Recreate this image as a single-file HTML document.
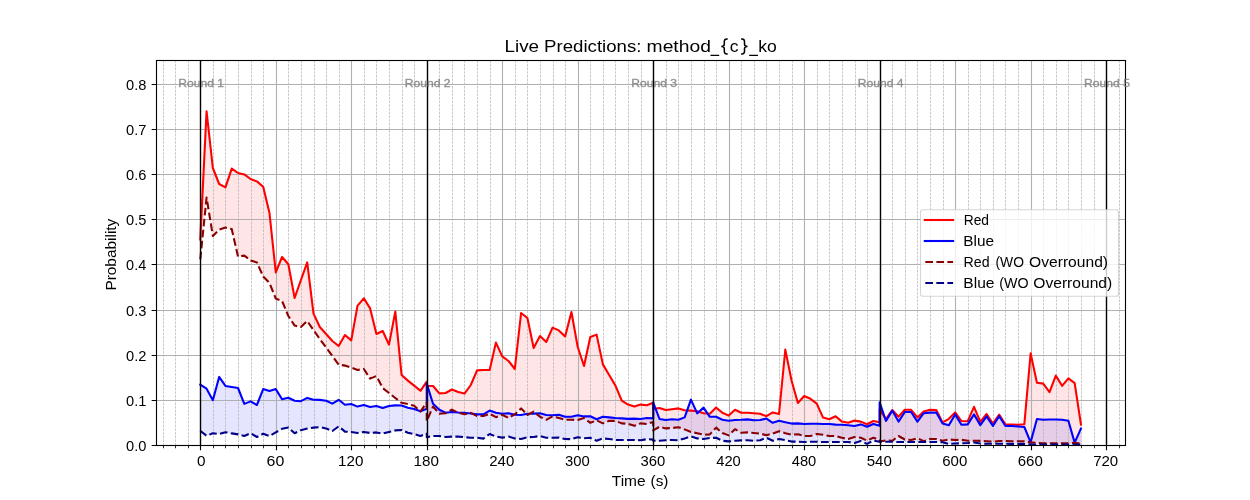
<!DOCTYPE html><html><head><meta charset="utf-8"><title>Live Predictions</title><style>html,body{margin:0;padding:0;background:#fff}svg{display:block;will-change:transform}text{font-family:"Liberation Sans",sans-serif}</style></head><body>
<svg width="1250" height="500" viewBox="0 0 1250 500">
<rect width="1250" height="500" fill="#fff"/>
<clipPath id="c"><rect x="156.5" y="60.5" width="969.0" height="385.0"/></clipPath>
<g clip-path="url(#c)">
<path d="M200.28,239.40 L206.57,111.40 L212.86,168.00 L219.15,184.00 L225.44,187.40 L231.73,168.60 L238.02,173.00 L244.31,174.40 L250.60,179.00 L256.90,181.40 L263.19,186.70 L269.48,213.00 L275.77,272.40 L282.06,257.00 L288.35,264.20 L294.64,298.00 L300.93,280.00 L307.22,262.40 L313.51,313.60 L319.80,327.00 L326.09,334.00 L332.38,341.00 L338.67,346.00 L344.96,335.00 L351.25,340.40 L357.54,305.60 L363.84,298.40 L370.13,308.40 L376.42,334.00 L382.71,331.00 L389.00,344.60 L395.29,311.60 L401.58,375.00 L407.87,380.60 L414.16,385.60 L420.45,390.80 L426.74,381.60 L426.74,385.80 L433.03,386.00 L439.32,393.40 L445.61,393.00 L451.90,389.50 L458.19,392.00 L464.49,393.60 L470.78,385.00 L477.07,370.40 L483.36,370.00 L489.65,370.00 L495.94,342.60 L502.23,356.40 L508.52,361.00 L514.81,369.00 L521.10,313.00 L527.39,318.00 L533.68,348.00 L539.97,336.00 L546.26,342.00 L552.55,327.60 L558.84,330.40 L565.13,336.40 L571.43,312.00 L577.72,347.00 L584.01,366.00 L590.30,337.00 L596.59,334.60 L602.88,364.40 L609.17,375.00 L615.46,385.60 L621.75,400.60 L628.04,404.60 L634.33,406.60 L640.62,404.60 L646.91,405.20 L653.20,402.80 L653.20,409.00 L659.49,408.00 L665.78,410.00 L672.07,409.20 L678.37,408.40 L684.66,410.20 L690.95,410.60 L697.24,411.20 L703.53,413.20 L709.82,413.80 L716.11,407.60 L722.40,412.80 L728.69,415.60 L734.98,409.80 L741.27,412.80 L747.56,412.70 L753.85,413.20 L760.14,413.80 L766.43,416.20 L772.72,412.40 L779.02,414.00 L785.31,349.60 L791.60,380.80 L797.89,403.00 L804.18,396.00 L810.47,398.80 L816.76,403.60 L823.05,417.60 L829.34,419.20 L835.63,416.20 L841.92,421.60 L848.21,422.80 L854.50,420.60 L860.79,421.60 L867.08,424.20 L873.37,421.00 L879.66,422.20 L879.66,409.60 L885.96,419.20 L892.25,410.00 L898.54,416.80 L904.83,409.80 L911.12,409.80 L917.41,417.40 L923.70,411.40 L929.99,409.80 L936.28,410.00 L942.57,422.40 L948.86,418.80 L955.15,412.40 L961.44,421.00 L967.73,421.20 L974.02,406.80 L980.31,421.80 L986.60,414.00 L992.90,423.60 L999.19,414.50 L1005.48,424.50 L1011.77,424.50 L1018.06,424.70 L1024.35,424.20 L1030.64,353.40 L1036.93,382.80 L1043.22,383.60 L1049.51,392.20 L1055.80,375.60 L1062.09,385.80 L1068.38,378.40 L1074.67,383.20 L1080.96,424.50 L1080.96,443.80 L1074.67,442.80 L1068.38,443.40 L1062.09,443.40 L1055.80,443.40 L1049.51,443.30 L1043.22,443.20 L1036.93,442.80 L1030.64,442.30 L1024.35,441.40 L1018.06,441.20 L1011.77,441.20 L1005.48,441.00 L999.19,441.00 L992.90,441.60 L986.60,441.20 L980.31,440.90 L974.02,440.80 L967.73,440.80 L961.44,439.80 L955.15,440.00 L948.86,439.50 L942.57,440.80 L936.28,439.00 L929.99,439.00 L923.70,441.20 L917.41,438.20 L911.12,440.00 L904.83,439.50 L898.54,436.00 L892.25,440.80 L885.96,440.50 L879.66,441.50 L879.66,440.00 L873.37,437.70 L867.08,440.60 L860.79,437.80 L854.50,437.10 L848.21,439.00 L841.92,437.80 L835.63,436.00 L829.34,436.00 L823.05,434.80 L816.76,434.00 L810.47,436.00 L804.18,436.00 L797.89,434.20 L791.60,434.80 L785.31,433.20 L779.02,431.20 L772.72,433.60 L766.43,435.20 L760.14,433.60 L753.85,433.00 L747.56,432.40 L741.27,432.80 L734.98,429.20 L728.69,435.40 L722.40,433.00 L716.11,427.60 L709.82,434.40 L703.53,434.80 L697.24,433.20 L690.95,432.00 L684.66,429.40 L678.37,427.20 L672.07,428.00 L665.78,428.40 L659.49,426.80 L653.20,430.40 L653.20,422.00 L646.91,424.00 L640.62,423.40 L634.33,425.80 L628.04,423.80 L621.75,423.40 L615.46,420.90 L609.17,420.80 L602.88,423.40 L596.59,420.40 L590.30,422.80 L584.01,418.00 L577.72,420.00 L571.43,419.80 L565.13,419.80 L558.84,418.00 L552.55,416.40 L546.26,419.80 L539.97,416.80 L533.68,411.60 L527.39,415.00 L521.10,408.40 L514.81,414.40 L508.52,418.00 L502.23,414.80 L495.94,417.20 L489.65,413.80 L483.36,416.00 L477.07,416.10 L470.78,412.80 L464.49,414.20 L458.19,412.70 L451.90,409.60 L445.61,413.30 L439.32,413.60 L433.03,406.70 L426.74,421.00 L426.74,402.50 L420.45,411.60 L414.16,405.80 L407.87,404.00 L401.58,402.80 L395.29,398.00 L389.00,393.00 L382.71,388.00 L376.42,376.00 L370.13,378.60 L363.84,369.00 L357.54,370.00 L351.25,367.60 L344.96,365.60 L338.67,364.60 L332.38,356.00 L326.09,347.50 L319.80,339.00 L313.51,330.00 L307.22,321.00 L300.93,327.00 L294.64,325.60 L288.35,316.00 L282.06,301.00 L275.77,298.60 L269.48,283.00 L263.19,276.50 L256.90,262.40 L250.60,260.40 L244.31,255.60 L238.02,256.60 L231.73,229.00 L225.44,227.60 L219.15,229.60 L212.86,236.00 L206.57,197.60 L200.28,259.40Z" fill="#ff0000" fill-opacity="0.1"/>
<path d="M200.28,384.60 L206.57,388.70 L212.86,400.20 L219.15,376.90 L225.44,385.90 L231.73,387.00 L238.02,388.00 L244.31,403.90 L250.60,401.40 L256.90,405.00 L263.19,389.10 L269.48,391.10 L275.77,389.10 L282.06,399.30 L288.35,397.70 L294.64,400.80 L300.93,401.20 L307.22,397.90 L313.51,399.70 L319.80,399.90 L326.09,400.80 L332.38,403.60 L338.67,399.80 L344.96,404.70 L351.25,404.00 L357.54,406.60 L363.84,405.00 L370.13,407.00 L376.42,406.00 L382.71,408.00 L389.00,406.00 L395.29,405.40 L401.58,405.50 L407.87,407.70 L414.16,409.00 L420.45,411.20 L426.74,408.70 L426.74,383.60 L433.03,403.70 L439.32,409.70 L445.61,412.80 L451.90,412.00 L458.19,412.50 L464.49,412.80 L470.78,413.50 L477.07,414.40 L483.36,414.30 L489.65,410.60 L495.94,412.80 L502.23,413.80 L508.52,413.20 L514.81,414.80 L521.10,415.00 L527.39,413.80 L533.68,413.60 L539.97,413.20 L546.26,415.00 L552.55,415.20 L558.84,414.80 L565.13,416.80 L571.43,416.80 L577.72,415.20 L584.01,416.40 L590.30,416.20 L596.59,419.20 L602.88,416.80 L609.17,417.40 L615.46,418.00 L621.75,418.40 L628.04,418.90 L634.33,418.60 L640.62,419.00 L646.91,418.00 L653.20,418.40 L653.20,402.40 L659.49,419.00 L665.78,420.00 L672.07,419.20 L678.37,419.80 L684.66,417.40 L690.95,399.60 L697.24,413.40 L703.53,407.60 L709.82,416.80 L716.11,416.80 L722.40,419.80 L728.69,420.80 L734.98,420.00 L741.27,419.80 L747.56,419.40 L753.85,420.20 L760.14,420.00 L766.43,418.60 L772.72,422.80 L779.02,420.80 L785.31,422.20 L791.60,423.60 L797.89,423.40 L804.18,424.00 L810.47,423.80 L816.76,423.80 L823.05,424.00 L829.34,424.00 L835.63,424.60 L841.92,424.80 L848.21,425.20 L854.50,426.00 L860.79,424.40 L867.08,426.80 L873.37,424.00 L879.66,425.80 L879.66,402.40 L885.96,421.00 L892.25,410.60 L898.54,421.60 L904.83,412.00 L911.12,412.00 L917.41,421.60 L923.70,413.20 L929.99,412.60 L936.28,412.60 L942.57,423.40 L948.86,425.20 L955.15,414.40 L961.44,424.80 L967.73,424.40 L974.02,414.40 L980.31,425.10 L986.60,416.40 L992.90,425.90 L999.19,416.20 L1005.48,426.00 L1011.77,426.00 L1018.06,426.50 L1024.35,427.00 L1030.64,442.30 L1036.93,419.00 L1043.22,419.70 L1049.51,419.50 L1055.80,419.50 L1062.09,419.80 L1068.38,420.80 L1074.67,442.60 L1080.96,428.50 L1080.96,444.50 L1074.67,444.50 L1068.38,444.50 L1062.09,444.50 L1055.80,444.50 L1049.51,444.50 L1043.22,444.50 L1036.93,444.50 L1030.64,444.40 L1024.35,444.00 L1018.06,443.90 L1011.77,443.90 L1005.48,443.80 L999.19,443.80 L992.90,443.80 L986.60,443.80 L980.31,443.60 L974.02,442.50 L967.73,443.00 L961.44,443.30 L955.15,443.50 L948.86,444.00 L942.57,442.20 L936.28,442.00 L929.99,442.00 L923.70,442.00 L917.41,442.00 L911.12,442.00 L904.83,442.00 L898.54,442.00 L892.25,441.80 L885.96,441.80 L879.66,441.80 L879.66,441.80 L873.37,440.50 L867.08,443.90 L860.79,441.10 L854.50,443.00 L848.21,442.00 L841.92,442.00 L835.63,442.00 L829.34,442.00 L823.05,442.00 L816.76,441.80 L810.47,441.80 L804.18,442.00 L797.89,441.60 L791.60,441.60 L785.31,440.20 L779.02,439.00 L772.72,440.80 L766.43,437.80 L760.14,440.20 L753.85,440.80 L747.56,440.20 L741.27,440.40 L734.98,440.80 L728.69,441.40 L722.40,440.80 L716.11,437.80 L709.82,438.00 L703.53,439.00 L697.24,438.40 L690.95,436.40 L684.66,438.40 L678.37,440.20 L672.07,440.00 L665.78,440.20 L659.49,440.80 L653.20,440.80 L653.20,439.60 L646.91,439.20 L640.62,440.20 L634.33,440.00 L628.04,440.00 L621.75,440.00 L615.46,440.00 L609.17,439.00 L602.88,438.40 L596.59,440.80 L590.30,437.80 L584.01,438.20 L577.72,437.20 L571.43,439.20 L565.13,439.00 L558.84,437.60 L552.55,437.80 L546.26,437.80 L539.97,436.00 L533.68,437.00 L527.39,437.20 L521.10,439.00 L514.81,438.40 L508.52,436.60 L502.23,437.60 L495.94,436.60 L489.65,434.00 L483.36,438.60 L477.07,437.80 L470.78,437.80 L464.49,437.20 L458.19,436.60 L451.90,436.60 L445.61,437.00 L439.32,436.00 L433.03,436.00 L426.74,437.20 L426.74,433.60 L420.45,436.00 L414.16,434.20 L407.87,432.80 L401.58,430.00 L395.29,430.40 L389.00,432.00 L382.71,433.60 L376.42,432.40 L370.13,433.00 L363.84,432.00 L357.54,433.00 L351.25,432.00 L344.96,431.60 L338.67,426.40 L332.38,431.00 L326.09,428.40 L319.80,427.20 L313.51,427.60 L307.22,428.60 L300.93,430.20 L294.64,433.20 L288.35,427.60 L282.06,428.80 L275.77,432.40 L269.48,436.00 L263.19,433.80 L256.90,437.00 L250.60,433.20 L244.31,436.00 L238.02,434.40 L231.73,433.40 L225.44,432.20 L219.15,434.00 L212.86,433.20 L206.57,435.80 L200.28,430.80Z" fill="#0000ff" fill-opacity="0.1"/>
<path d="M163.50,445.5V60.5M175.50,445.5V60.5M188.50,445.5V60.5M213.50,445.5V60.5M225.50,445.5V60.5M238.50,445.5V60.5M251.50,445.5V60.5M263.50,445.5V60.5M288.50,445.5V60.5M301.50,445.5V60.5M314.50,445.5V60.5M326.50,445.5V60.5M339.50,445.5V60.5M364.50,445.5V60.5M376.50,445.5V60.5M389.50,445.5V60.5M402.50,445.5V60.5M414.50,445.5V60.5M439.50,445.5V60.5M452.50,445.5V60.5M464.50,445.5V60.5M477.50,445.5V60.5M490.50,445.5V60.5M515.50,445.5V60.5M527.50,445.5V60.5M540.50,445.5V60.5M553.50,445.5V60.5M565.50,445.5V60.5M590.50,445.5V60.5M603.50,445.5V60.5M615.50,445.5V60.5M628.50,445.5V60.5M641.50,445.5V60.5M666.50,445.5V60.5M678.50,445.5V60.5M691.50,445.5V60.5M704.50,445.5V60.5M716.50,445.5V60.5M741.50,445.5V60.5M754.50,445.5V60.5M766.50,445.5V60.5M779.50,445.5V60.5M792.50,445.5V60.5M817.50,445.5V60.5M829.50,445.5V60.5M842.50,445.5V60.5M855.50,445.5V60.5M867.50,445.5V60.5M892.50,445.5V60.5M905.50,445.5V60.5M917.50,445.5V60.5M930.50,445.5V60.5M943.50,445.5V60.5M968.50,445.5V60.5M980.50,445.5V60.5M993.50,445.5V60.5M1005.50,445.5V60.5M1018.50,445.5V60.5M1043.50,445.5V60.5M1056.50,445.5V60.5M1068.50,445.5V60.5M1081.50,445.5V60.5M1094.50,445.5V60.5M1119.50,445.5V60.5" stroke="#b0b0b0" stroke-width="0.69" stroke-dasharray="2.57 1.11" fill="none"/>
<path d="M200.50,445.5V60.5M276.50,445.5V60.5M351.50,445.5V60.5M427.50,445.5V60.5M502.50,445.5V60.5M578.50,445.5V60.5M653.50,445.5V60.5M729.50,445.5V60.5M804.50,445.5V60.5M880.50,445.5V60.5M955.50,445.5V60.5M1031.50,445.5V60.5M1106.50,445.5V60.5M156.5,445.50H1125.5M156.5,400.50H1125.5M156.5,355.50H1125.5M156.5,310.50H1125.5M156.5,264.50H1125.5M156.5,219.50H1125.5M156.5,174.50H1125.5M156.5,129.50H1125.5M156.5,84.50H1125.5" stroke="#b0b0b0" stroke-width="1.11" fill="none"/>
<path d="M200.28,239.40 L206.57,111.40 L212.86,168.00 L219.15,184.00 L225.44,187.40 L231.73,168.60 L238.02,173.00 L244.31,174.40 L250.60,179.00 L256.90,181.40 L263.19,186.70 L269.48,213.00 L275.77,272.40 L282.06,257.00 L288.35,264.20 L294.64,298.00 L300.93,280.00 L307.22,262.40 L313.51,313.60 L319.80,327.00 L326.09,334.00 L332.38,341.00 L338.67,346.00 L344.96,335.00 L351.25,340.40 L357.54,305.60 L363.84,298.40 L370.13,308.40 L376.42,334.00 L382.71,331.00 L389.00,344.60 L395.29,311.60 L401.58,375.00 L407.87,380.60 L414.16,385.60 L420.45,390.80 L426.74,381.60 L426.74,385.80 L433.03,386.00 L439.32,393.40 L445.61,393.00 L451.90,389.50 L458.19,392.00 L464.49,393.60 L470.78,385.00 L477.07,370.40 L483.36,370.00 L489.65,370.00 L495.94,342.60 L502.23,356.40 L508.52,361.00 L514.81,369.00 L521.10,313.00 L527.39,318.00 L533.68,348.00 L539.97,336.00 L546.26,342.00 L552.55,327.60 L558.84,330.40 L565.13,336.40 L571.43,312.00 L577.72,347.00 L584.01,366.00 L590.30,337.00 L596.59,334.60 L602.88,364.40 L609.17,375.00 L615.46,385.60 L621.75,400.60 L628.04,404.60 L634.33,406.60 L640.62,404.60 L646.91,405.20 L653.20,402.80 L653.20,409.00 L659.49,408.00 L665.78,410.00 L672.07,409.20 L678.37,408.40 L684.66,410.20 L690.95,410.60 L697.24,411.20 L703.53,413.20 L709.82,413.80 L716.11,407.60 L722.40,412.80 L728.69,415.60 L734.98,409.80 L741.27,412.80 L747.56,412.70 L753.85,413.20 L760.14,413.80 L766.43,416.20 L772.72,412.40 L779.02,414.00 L785.31,349.60 L791.60,380.80 L797.89,403.00 L804.18,396.00 L810.47,398.80 L816.76,403.60 L823.05,417.60 L829.34,419.20 L835.63,416.20 L841.92,421.60 L848.21,422.80 L854.50,420.60 L860.79,421.60 L867.08,424.20 L873.37,421.00 L879.66,422.20 L879.66,409.60 L885.96,419.20 L892.25,410.00 L898.54,416.80 L904.83,409.80 L911.12,409.80 L917.41,417.40 L923.70,411.40 L929.99,409.80 L936.28,410.00 L942.57,422.40 L948.86,418.80 L955.15,412.40 L961.44,421.00 L967.73,421.20 L974.02,406.80 L980.31,421.80 L986.60,414.00 L992.90,423.60 L999.19,414.50 L1005.48,424.50 L1011.77,424.50 L1018.06,424.70 L1024.35,424.20 L1030.64,353.40 L1036.93,382.80 L1043.22,383.60 L1049.51,392.20 L1055.80,375.60 L1062.09,385.80 L1068.38,378.40 L1074.67,383.20 L1080.96,424.50" stroke="#ff0000" stroke-width="2.08" fill="none" stroke-linejoin="round" stroke-linecap="square"/>
<path d="M200.28,384.60 L206.57,388.70 L212.86,400.20 L219.15,376.90 L225.44,385.90 L231.73,387.00 L238.02,388.00 L244.31,403.90 L250.60,401.40 L256.90,405.00 L263.19,389.10 L269.48,391.10 L275.77,389.10 L282.06,399.30 L288.35,397.70 L294.64,400.80 L300.93,401.20 L307.22,397.90 L313.51,399.70 L319.80,399.90 L326.09,400.80 L332.38,403.60 L338.67,399.80 L344.96,404.70 L351.25,404.00 L357.54,406.60 L363.84,405.00 L370.13,407.00 L376.42,406.00 L382.71,408.00 L389.00,406.00 L395.29,405.40 L401.58,405.50 L407.87,407.70 L414.16,409.00 L420.45,411.20 L426.74,408.70 L426.74,383.60 L433.03,403.70 L439.32,409.70 L445.61,412.80 L451.90,412.00 L458.19,412.50 L464.49,412.80 L470.78,413.50 L477.07,414.40 L483.36,414.30 L489.65,410.60 L495.94,412.80 L502.23,413.80 L508.52,413.20 L514.81,414.80 L521.10,415.00 L527.39,413.80 L533.68,413.60 L539.97,413.20 L546.26,415.00 L552.55,415.20 L558.84,414.80 L565.13,416.80 L571.43,416.80 L577.72,415.20 L584.01,416.40 L590.30,416.20 L596.59,419.20 L602.88,416.80 L609.17,417.40 L615.46,418.00 L621.75,418.40 L628.04,418.90 L634.33,418.60 L640.62,419.00 L646.91,418.00 L653.20,418.40 L653.20,402.40 L659.49,419.00 L665.78,420.00 L672.07,419.20 L678.37,419.80 L684.66,417.40 L690.95,399.60 L697.24,413.40 L703.53,407.60 L709.82,416.80 L716.11,416.80 L722.40,419.80 L728.69,420.80 L734.98,420.00 L741.27,419.80 L747.56,419.40 L753.85,420.20 L760.14,420.00 L766.43,418.60 L772.72,422.80 L779.02,420.80 L785.31,422.20 L791.60,423.60 L797.89,423.40 L804.18,424.00 L810.47,423.80 L816.76,423.80 L823.05,424.00 L829.34,424.00 L835.63,424.60 L841.92,424.80 L848.21,425.20 L854.50,426.00 L860.79,424.40 L867.08,426.80 L873.37,424.00 L879.66,425.80 L879.66,402.40 L885.96,421.00 L892.25,410.60 L898.54,421.60 L904.83,412.00 L911.12,412.00 L917.41,421.60 L923.70,413.20 L929.99,412.60 L936.28,412.60 L942.57,423.40 L948.86,425.20 L955.15,414.40 L961.44,424.80 L967.73,424.40 L974.02,414.40 L980.31,425.10 L986.60,416.40 L992.90,425.90 L999.19,416.20 L1005.48,426.00 L1011.77,426.00 L1018.06,426.50 L1024.35,427.00 L1030.64,442.30 L1036.93,419.00 L1043.22,419.70 L1049.51,419.50 L1055.80,419.50 L1062.09,419.80 L1068.38,420.80 L1074.67,442.60 L1080.96,428.50" stroke="#0000ff" stroke-width="2.08" fill="none" stroke-linejoin="round" stroke-linecap="square"/>
<path d="M200.28,259.40 L206.57,197.60 L212.86,236.00 L219.15,229.60 L225.44,227.60 L231.73,229.00 L238.02,256.60 L244.31,255.60 L250.60,260.40 L256.90,262.40 L263.19,276.50 L269.48,283.00 L275.77,298.60 L282.06,301.00 L288.35,316.00 L294.64,325.60 L300.93,327.00 L307.22,321.00 L313.51,330.00 L319.80,339.00 L326.09,347.50 L332.38,356.00 L338.67,364.60 L344.96,365.60 L351.25,367.60 L357.54,370.00 L363.84,369.00 L370.13,378.60 L376.42,376.00 L382.71,388.00 L389.00,393.00 L395.29,398.00 L401.58,402.80 L407.87,404.00 L414.16,405.80 L420.45,411.60 L426.74,402.50 L426.74,421.00 L433.03,406.70 L439.32,413.60 L445.61,413.30 L451.90,409.60 L458.19,412.70 L464.49,414.20 L470.78,412.80 L477.07,416.10 L483.36,416.00 L489.65,413.80 L495.94,417.20 L502.23,414.80 L508.52,418.00 L514.81,414.40 L521.10,408.40 L527.39,415.00 L533.68,411.60 L539.97,416.80 L546.26,419.80 L552.55,416.40 L558.84,418.00 L565.13,419.80 L571.43,419.80 L577.72,420.00 L584.01,418.00 L590.30,422.80 L596.59,420.40 L602.88,423.40 L609.17,420.80 L615.46,420.90 L621.75,423.40 L628.04,423.80 L634.33,425.80 L640.62,423.40 L646.91,424.00 L653.20,422.00 L653.20,430.40 L659.49,426.80 L665.78,428.40 L672.07,428.00 L678.37,427.20 L684.66,429.40 L690.95,432.00 L697.24,433.20 L703.53,434.80 L709.82,434.40 L716.11,427.60 L722.40,433.00 L728.69,435.40 L734.98,429.20 L741.27,432.80 L747.56,432.40 L753.85,433.00 L760.14,433.60 L766.43,435.20 L772.72,433.60 L779.02,431.20 L785.31,433.20 L791.60,434.80 L797.89,434.20 L804.18,436.00 L810.47,436.00 L816.76,434.00 L823.05,434.80 L829.34,436.00 L835.63,436.00 L841.92,437.80 L848.21,439.00 L854.50,437.10 L860.79,437.80 L867.08,440.60 L873.37,437.70 L879.66,440.00 L879.66,441.50 L885.96,440.50 L892.25,440.80 L898.54,436.00 L904.83,439.50 L911.12,440.00 L917.41,438.20 L923.70,441.20 L929.99,439.00 L936.28,439.00 L942.57,440.80 L948.86,439.50 L955.15,440.00 L961.44,439.80 L967.73,440.80 L974.02,440.80 L980.31,440.90 L986.60,441.20 L992.90,441.60 L999.19,441.00 L1005.48,441.00 L1011.77,441.20 L1018.06,441.20 L1024.35,441.40 L1030.64,442.30 L1036.93,442.80 L1043.22,443.20 L1049.51,443.30 L1055.80,443.40 L1062.09,443.40 L1068.38,443.40 L1074.67,442.80 L1080.96,443.80" stroke="#8b0000" stroke-width="2.08" fill="none" stroke-linejoin="round" stroke-dasharray="7.71 3.33"/>
<path d="M200.28,430.80 L206.57,435.80 L212.86,433.20 L219.15,434.00 L225.44,432.20 L231.73,433.40 L238.02,434.40 L244.31,436.00 L250.60,433.20 L256.90,437.00 L263.19,433.80 L269.48,436.00 L275.77,432.40 L282.06,428.80 L288.35,427.60 L294.64,433.20 L300.93,430.20 L307.22,428.60 L313.51,427.60 L319.80,427.20 L326.09,428.40 L332.38,431.00 L338.67,426.40 L344.96,431.60 L351.25,432.00 L357.54,433.00 L363.84,432.00 L370.13,433.00 L376.42,432.40 L382.71,433.60 L389.00,432.00 L395.29,430.40 L401.58,430.00 L407.87,432.80 L414.16,434.20 L420.45,436.00 L426.74,433.60 L426.74,437.20 L433.03,436.00 L439.32,436.00 L445.61,437.00 L451.90,436.60 L458.19,436.60 L464.49,437.20 L470.78,437.80 L477.07,437.80 L483.36,438.60 L489.65,434.00 L495.94,436.60 L502.23,437.60 L508.52,436.60 L514.81,438.40 L521.10,439.00 L527.39,437.20 L533.68,437.00 L539.97,436.00 L546.26,437.80 L552.55,437.80 L558.84,437.60 L565.13,439.00 L571.43,439.20 L577.72,437.20 L584.01,438.20 L590.30,437.80 L596.59,440.80 L602.88,438.40 L609.17,439.00 L615.46,440.00 L621.75,440.00 L628.04,440.00 L634.33,440.00 L640.62,440.20 L646.91,439.20 L653.20,439.60 L653.20,440.80 L659.49,440.80 L665.78,440.20 L672.07,440.00 L678.37,440.20 L684.66,438.40 L690.95,436.40 L697.24,438.40 L703.53,439.00 L709.82,438.00 L716.11,437.80 L722.40,440.80 L728.69,441.40 L734.98,440.80 L741.27,440.40 L747.56,440.20 L753.85,440.80 L760.14,440.20 L766.43,437.80 L772.72,440.80 L779.02,439.00 L785.31,440.20 L791.60,441.60 L797.89,441.60 L804.18,442.00 L810.47,441.80 L816.76,441.80 L823.05,442.00 L829.34,442.00 L835.63,442.00 L841.92,442.00 L848.21,442.00 L854.50,443.00 L860.79,441.10 L867.08,443.90 L873.37,440.50 L879.66,441.80 L879.66,441.80 L885.96,441.80 L892.25,441.80 L898.54,442.00 L904.83,442.00 L911.12,442.00 L917.41,442.00 L923.70,442.00 L929.99,442.00 L936.28,442.00 L942.57,442.20 L948.86,444.00 L955.15,443.50 L961.44,443.30 L967.73,443.00 L974.02,442.50 L980.31,443.60 L986.60,443.80 L992.90,443.80 L999.19,443.80 L1005.48,443.80 L1011.77,443.90 L1018.06,443.90 L1024.35,444.00 L1030.64,444.40 L1036.93,444.50 L1043.22,444.50 L1049.51,444.50 L1055.80,444.50 L1062.09,444.50 L1068.38,444.50 L1074.67,444.50 L1080.96,444.50" stroke="#00008b" stroke-width="2.08" fill="none" stroke-linejoin="round" stroke-dasharray="7.71 3.33"/>
<path d="M200.50,445.5V60.5M427.50,445.5V60.5M653.50,445.5V60.5M880.50,445.5V60.5M1106.50,445.5V60.5" stroke="#000" stroke-width="1.39" fill="none"/>
</g>
<path d="M200.50,445.5v4.86M276.50,445.5v4.86M351.50,445.5v4.86M427.50,445.5v4.86M502.50,445.5v4.86M578.50,445.5v4.86M653.50,445.5v4.86M729.50,445.5v4.86M804.50,445.5v4.86M880.50,445.5v4.86M955.50,445.5v4.86M1031.50,445.5v4.86M1106.50,445.5v4.86M156.5,445.50h-4.86M156.5,400.50h-4.86M156.5,355.50h-4.86M156.5,310.50h-4.86M156.5,264.50h-4.86M156.5,219.50h-4.86M156.5,174.50h-4.86M156.5,129.50h-4.86M156.5,84.50h-4.86" stroke="#000" stroke-width="1.11" fill="none"/>
<path d="M163.50,445.5v2.78M175.50,445.5v2.78M188.50,445.5v2.78M213.50,445.5v2.78M225.50,445.5v2.78M238.50,445.5v2.78M251.50,445.5v2.78M263.50,445.5v2.78M288.50,445.5v2.78M301.50,445.5v2.78M314.50,445.5v2.78M326.50,445.5v2.78M339.50,445.5v2.78M364.50,445.5v2.78M376.50,445.5v2.78M389.50,445.5v2.78M402.50,445.5v2.78M414.50,445.5v2.78M439.50,445.5v2.78M452.50,445.5v2.78M464.50,445.5v2.78M477.50,445.5v2.78M490.50,445.5v2.78M515.50,445.5v2.78M527.50,445.5v2.78M540.50,445.5v2.78M553.50,445.5v2.78M565.50,445.5v2.78M590.50,445.5v2.78M603.50,445.5v2.78M615.50,445.5v2.78M628.50,445.5v2.78M641.50,445.5v2.78M666.50,445.5v2.78M678.50,445.5v2.78M691.50,445.5v2.78M704.50,445.5v2.78M716.50,445.5v2.78M741.50,445.5v2.78M754.50,445.5v2.78M766.50,445.5v2.78M779.50,445.5v2.78M792.50,445.5v2.78M817.50,445.5v2.78M829.50,445.5v2.78M842.50,445.5v2.78M855.50,445.5v2.78M867.50,445.5v2.78M892.50,445.5v2.78M905.50,445.5v2.78M917.50,445.5v2.78M930.50,445.5v2.78M943.50,445.5v2.78M968.50,445.5v2.78M980.50,445.5v2.78M993.50,445.5v2.78M1005.50,445.5v2.78M1018.50,445.5v2.78M1043.50,445.5v2.78M1056.50,445.5v2.78M1068.50,445.5v2.78M1081.50,445.5v2.78M1094.50,445.5v2.78M1119.50,445.5v2.78" stroke="#000" stroke-width="0.83" fill="none"/>
<rect x="156.5" y="60.5" width="969.0" height="385.0" fill="none" stroke="#000" stroke-width="1.11"/>
<rect x="920.5" y="209.7" width="198" height="86.6" rx="2.6" ry="2.6" fill="#fff" fill-opacity="0.8" stroke="#ccc" stroke-opacity="0.8" stroke-width="1.11"/>
<path d="M924.8,220.00H953.1" stroke="#ff0000" stroke-width="2.08" fill="none" stroke-linecap="square"/>
<path d="M924.8,241.00H953.1" stroke="#0000ff" stroke-width="2.08" fill="none" stroke-linecap="square"/>
<path d="M925.3,262.00H953.1" stroke="#8b0000" stroke-width="2.08" fill="none" stroke-dasharray="7.71 3.33"/>
<path d="M925.3,283.00H953.1" stroke="#00008b" stroke-width="2.08" fill="none" stroke-dasharray="7.71 3.33"/>
<path d="M727.7,38.9h-0.9q-2.5,0 -2.5,2.6v2.7q0,2.2 -3,2.2q3,0 3,2.2v2.7q0,2.6 2.5,2.6h0.9M741.1,38.9h0.9q2.5,0 2.5,2.6v2.7q0,2.2 3,2.2q-3,0 -3,2.2v2.7q0,2.6 -2.5,2.6h-0.9" stroke="#000" stroke-width="1.5" fill="none"/>
<path d="M710.5,55.4H719.2M749.2,55.4H758.0" stroke="#000" stroke-width="1.25" fill="none"/>
<text x="504.47" y="51.50" font-size="16.8" fill="#000" textLength="34.56" lengthAdjust="spacingAndGlyphs">Live</text>
<text x="544.12" y="51.50" font-size="16.8" fill="#000" textLength="97.31" lengthAdjust="spacingAndGlyphs">Predictions:</text>
<text x="646.56" y="51.50" font-size="16.8" fill="#000" textLength="64.42" lengthAdjust="spacingAndGlyphs">method</text>
<text x="729.87" y="51.50" font-size="16.8" fill="#000" textLength="8.77" lengthAdjust="spacingAndGlyphs">c</text>
<text x="758.31" y="51.50" font-size="16.8" fill="#000" textLength="18.54" lengthAdjust="spacingAndGlyphs">ko</text>
<text x="611.76" y="485.60" font-size="14" fill="#000" textLength="33.88" lengthAdjust="spacingAndGlyphs">Time</text>
<text x="650.53" y="485.60" font-size="14" fill="#000" textLength="17.92" lengthAdjust="spacingAndGlyphs">(s)</text>
<text transform="translate(115.9,289.4) rotate(-90)" x="-1.21" y="0" font-size="14" fill="#000" textLength="71.94" lengthAdjust="spacingAndGlyphs">Probability</text>
<text x="196.93" y="466.10" font-size="14" fill="#000" textLength="8.52" lengthAdjust="spacingAndGlyphs">0</text>
<text x="266.54" y="466.10" font-size="14" fill="#000" textLength="17.71" lengthAdjust="spacingAndGlyphs">60</text>
<text x="338.02" y="466.10" font-size="14" fill="#000" textLength="25.32" lengthAdjust="spacingAndGlyphs">120</text>
<text x="413.51" y="466.10" font-size="14" fill="#000" textLength="25.32" lengthAdjust="spacingAndGlyphs">180</text>
<text x="489.28" y="466.10" font-size="14" fill="#000" textLength="25.04" lengthAdjust="spacingAndGlyphs">240</text>
<text x="565.02" y="466.10" font-size="14" fill="#000" textLength="24.78" lengthAdjust="spacingAndGlyphs">300</text>
<text x="640.51" y="466.10" font-size="14" fill="#000" textLength="24.78" lengthAdjust="spacingAndGlyphs">360</text>
<text x="716.25" y="466.10" font-size="14" fill="#000" textLength="24.53" lengthAdjust="spacingAndGlyphs">420</text>
<text x="791.73" y="466.10" font-size="14" fill="#000" textLength="24.53" lengthAdjust="spacingAndGlyphs">480</text>
<text x="866.71" y="466.10" font-size="14" fill="#000" textLength="25.04" lengthAdjust="spacingAndGlyphs">540</text>
<text x="942.20" y="466.10" font-size="14" fill="#000" textLength="25.04" lengthAdjust="spacingAndGlyphs">600</text>
<text x="1017.69" y="466.10" font-size="14" fill="#000" textLength="25.04" lengthAdjust="spacingAndGlyphs">660</text>
<text x="1093.17" y="466.10" font-size="14" fill="#000" textLength="25.04" lengthAdjust="spacingAndGlyphs">720</text>
<text x="126.09" y="450.90" font-size="14" fill="#000" textLength="20.37" lengthAdjust="spacingAndGlyphs">0.0</text>
<text x="126.09" y="405.90" font-size="14" fill="#000" textLength="20.37" lengthAdjust="spacingAndGlyphs">0.1</text>
<text x="126.09" y="360.90" font-size="14" fill="#000" textLength="20.37" lengthAdjust="spacingAndGlyphs">0.2</text>
<text x="126.09" y="315.90" font-size="14" fill="#000" textLength="20.37" lengthAdjust="spacingAndGlyphs">0.3</text>
<text x="126.10" y="269.90" font-size="14" fill="#000" textLength="20.11" lengthAdjust="spacingAndGlyphs">0.4</text>
<text x="126.09" y="224.90" font-size="14" fill="#000" textLength="20.37" lengthAdjust="spacingAndGlyphs">0.5</text>
<text x="126.09" y="179.90" font-size="14" fill="#000" textLength="20.37" lengthAdjust="spacingAndGlyphs">0.6</text>
<text x="126.09" y="134.90" font-size="14" fill="#000" textLength="20.37" lengthAdjust="spacingAndGlyphs">0.7</text>
<text x="126.09" y="89.90" font-size="14" fill="#000" textLength="20.37" lengthAdjust="spacingAndGlyphs">0.8</text>
<text x="178.30" y="86.80" font-size="11.2" fill="#808080" fill-opacity="0.8" stroke="#808080" stroke-width="0.35" stroke-opacity="0.8" textLength="45.79" lengthAdjust="spacingAndGlyphs">Round 1</text>
<text x="404.76" y="86.80" font-size="11.2" fill="#808080" fill-opacity="0.8" stroke="#808080" stroke-width="0.35" stroke-opacity="0.8" textLength="45.79" lengthAdjust="spacingAndGlyphs">Round 2</text>
<text x="631.22" y="86.80" font-size="11.2" fill="#808080" fill-opacity="0.8" stroke="#808080" stroke-width="0.35" stroke-opacity="0.8" textLength="45.79" lengthAdjust="spacingAndGlyphs">Round 3</text>
<text x="857.69" y="86.80" font-size="11.2" fill="#808080" fill-opacity="0.8" stroke="#808080" stroke-width="0.35" stroke-opacity="0.8" textLength="45.80" lengthAdjust="spacingAndGlyphs">Round 4</text>
<text x="1084.14" y="86.80" font-size="11.2" fill="#808080" fill-opacity="0.8" stroke="#808080" stroke-width="0.35" stroke-opacity="0.8" textLength="45.79" lengthAdjust="spacingAndGlyphs">Round 5</text>
<text x="963.76" y="224.70" font-size="14" fill="#000" textLength="25.28" lengthAdjust="spacingAndGlyphs">Red</text>
<text x="963.32" y="245.70" font-size="14" fill="#000" textLength="30.78" lengthAdjust="spacingAndGlyphs">Blue</text>
<text x="963.54" y="266.70" font-size="14" fill="#000" textLength="26.02" lengthAdjust="spacingAndGlyphs">Red</text>
<text x="995.45" y="266.70" font-size="14" fill="#000" textLength="28.51" lengthAdjust="spacingAndGlyphs">(WO</text>
<text x="1029.07" y="266.70" font-size="14" fill="#000" textLength="78.96" lengthAdjust="spacingAndGlyphs">Overround)</text>
<text x="963.33" y="287.70" font-size="14" fill="#000" textLength="31.14" lengthAdjust="spacingAndGlyphs">Blue</text>
<text x="999.19" y="287.70" font-size="14" fill="#000" textLength="29.30" lengthAdjust="spacingAndGlyphs">(WO</text>
<text x="1033.27" y="287.70" font-size="14" fill="#000" textLength="78.96" lengthAdjust="spacingAndGlyphs">Overround)</text>
</svg></body></html>
